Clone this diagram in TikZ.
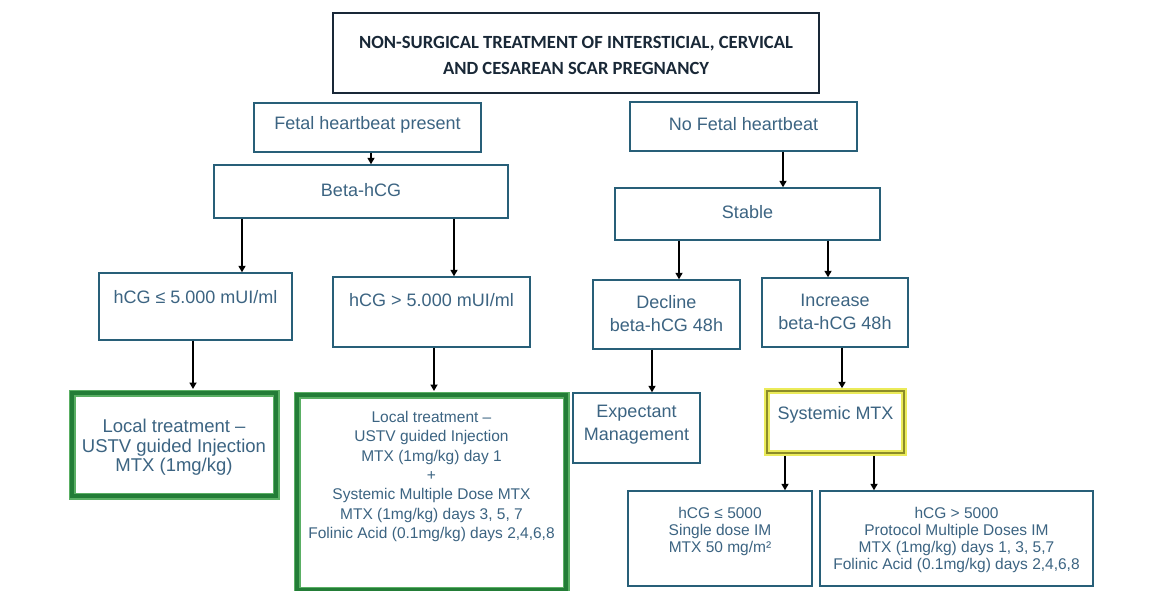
\documentclass[tikz,border=0pt]{standalone}
\usepackage{fontspec}
\setmainfont{Liberation Sans}
\newfontfamily\titlefont{Carlito}
\usetikzlibrary{arrows.meta}
\definecolor{boxc}{RGB}{40,95,120}
\definecolor{txtc}{RGB}{60,100,130}
\definecolor{greend}{RGB}{35,125,55}
\definecolor{greenl}{RGB}{90,175,100}
\definecolor{ylw}{RGB}{235,235,90}
\definecolor{olivec}{RGB}{140,140,40}
\definecolor{titlec}{RGB}{25,40,55}
\begin{document}
\begin{tikzpicture}[x=1pt,y=-1pt,
  box/.style={draw=boxc, line width=1.4pt, inner sep=0pt},
  gbox/.style={draw=greend, line width=4pt, preaction={draw=greenl, line width=7pt}, inner sep=0pt},
  ybox/.style={draw=olivec, line width=1.5pt, preaction={draw=ylw, line width=6pt}, inner sep=0pt},
  tbox/.style={draw=titlec, line width=2pt, inner sep=0pt},
  txt/.style={text=txtc, align=center, inner sep=0pt, font=\fontsize{18}{23}\selectfont},
  stxt/.style={text=txtc, align=center, inner sep=0pt, font=\fontsize{15.5}{17}\selectfont},
  arr/.style={-{Triangle[width=7pt,length=6.5pt]}, line width=1.8pt, black}]
\useasboundingbox[fill=white] (0,0) rectangle (1159,591);

% boxes
\node[tbox, minimum width=486pt, minimum height=80pt] (title) at (576,53) {};
\node[text=titlec, align=center, inner sep=0pt, font=\titlefont\bfseries\fontsize{18.6}{26}\selectfont] (titlet) at (576,55)
  {NON-SURGICAL TREATMENT OF INTERSTICIAL, CERVICAL\\AND CESAREAN SCAR PREGNANCY};

\node[box, minimum width=227pt, minimum height=49pt] (fhp) at (367.5,127.5) {};
\node[txt] (fhpt) at (367.5,125) {Fetal heartbeat present};

\node[box, minimum width=227pt, minimum height=49pt] (nfh) at (743.5,126.5) {};
\node[txt] (nfht) at (743.5,124) {No Fetal heartbeat};

\node[box, minimum width=294pt, minimum height=53pt] (beta) at (361,191.5) {};
\node[txt] (betat) at (361,190) {Beta-hCG};

\node[box, minimum width=265pt, minimum height=52pt] (stable) at (747.5,214) {};
\node[txt] (stablet) at (747.5,212) {Stable};

\node[box, minimum width=193pt, minimum height=67pt] (hle) at (195.5,306.5) {};
\node[txt] (hlet) at (195.5,297) {hCG ≤ 5.000 mUI/ml};

\node[box, minimum width=197pt, minimum height=70pt] (hgt) at (431.5,312) {};
\node[txt] (hgtt) at (431.5,300) {hCG > 5.000 mUI/ml};

\node[box, minimum width=147pt, minimum height=69pt] (decl) at (666.5,314.5) {};
\node[txt] (declt) at (666.5,313.5) {Decline\\beta-hCG 48h};

\node[box, minimum width=146pt, minimum height=69pt] (incr) at (835,312.5) {};
\node[txt] (incrt) at (835,311.5) {Increase\\beta-hCG 48h};

\node[gbox, minimum width=204pt, minimum height=103pt] (loc1) at (174,444.5) {};
\node[txt, font=\fontsize{18.5}{19.5}\selectfont] (loc1t) at (174,447.5)
  {Local treatment –\\USTV guided Injection\\MTX (1mg/kg)};

\node[gbox, minimum width=269pt, minimum height=195pt] (loc2) at (431.5,492.5) {};
\node[txt, font=\fontsize{15.5}{19.3}\selectfont] (loc2t) at (431.5,476.5)
  {Local treatment –\\USTV guided Injection\\MTX (1mg/kg) day 1\\+\\Systemic Multiple Dose MTX\\MTX (1mg/kg) days 3, 5, 7\\Folinic Acid (0.1mg/kg) days 2,4,6,8};

\node[box, minimum width=127pt, minimum height=70pt] (expm) at (636.5,428) {};
\node[txt] (expmt) at (636.5,425) {Expectant\\Management};

\node[ybox, minimum width=137pt, minimum height=62pt] (sys) at (835.5,422) {};
\node[txt] (syst) at (835.5,415) {Systemic MTX};

\node[box, minimum width=184pt, minimum height=95pt] (bl) at (720,538.5) {};
\node[stxt] (blt) at (720,531) {hCG ≤ 5000\\Single dose IM\\MTX 50 mg/m²};

\node[box, minimum width=273pt, minimum height=95pt] (br) at (956.5,538.5) {};
\node[stxt] (brt) at (956.5,539.5) {hCG > 5000\\Protocol Multiple Doses IM\\MTX (1mg/kg) days 1, 3, 5,7\\Folinic Acid (0.1mg/kg) days 2,4,6,8};

% connectors
\draw[arr] (fhp.south -| 371,0) -- (beta.north -| 371,0);
\draw[arr] (nfh.south -| 783,0) -- (stable.north -| 783,0);
\draw[arr] (beta.south -| 242,0) -- (hle.north -| 242,0);
\draw[arr] (beta.south -| 454,0) -- (hgt.north -| 454,0);
\draw[arr] (stable.south -| 679,0) -- (decl.north -| 679,0);
\draw[arr] (stable.south -| 828,0) -- (incr.north -| 828,0);
\draw[arr] (hle.south -| 193,0) -- ([yshift=2pt]loc1.north -| 193,0);
\draw[arr] (hgt.south -| 434,0) -- ([yshift=2pt]loc2.north -| 434,0);
\draw[arr] (decl.south -| 652,0) -- (expm.north -| 652,0);
\draw[arr] (incr.south -| 842,0) -- ([yshift=2pt]sys.north -| 842,0);
\draw[arr] ([yshift=-2pt]sys.south -| 785,0) -- (bl.north -| 785,0);
\draw[arr] ([yshift=-2pt]sys.south -| 874,0) -- (br.north -| 874,0);
\end{tikzpicture}
\end{document}
